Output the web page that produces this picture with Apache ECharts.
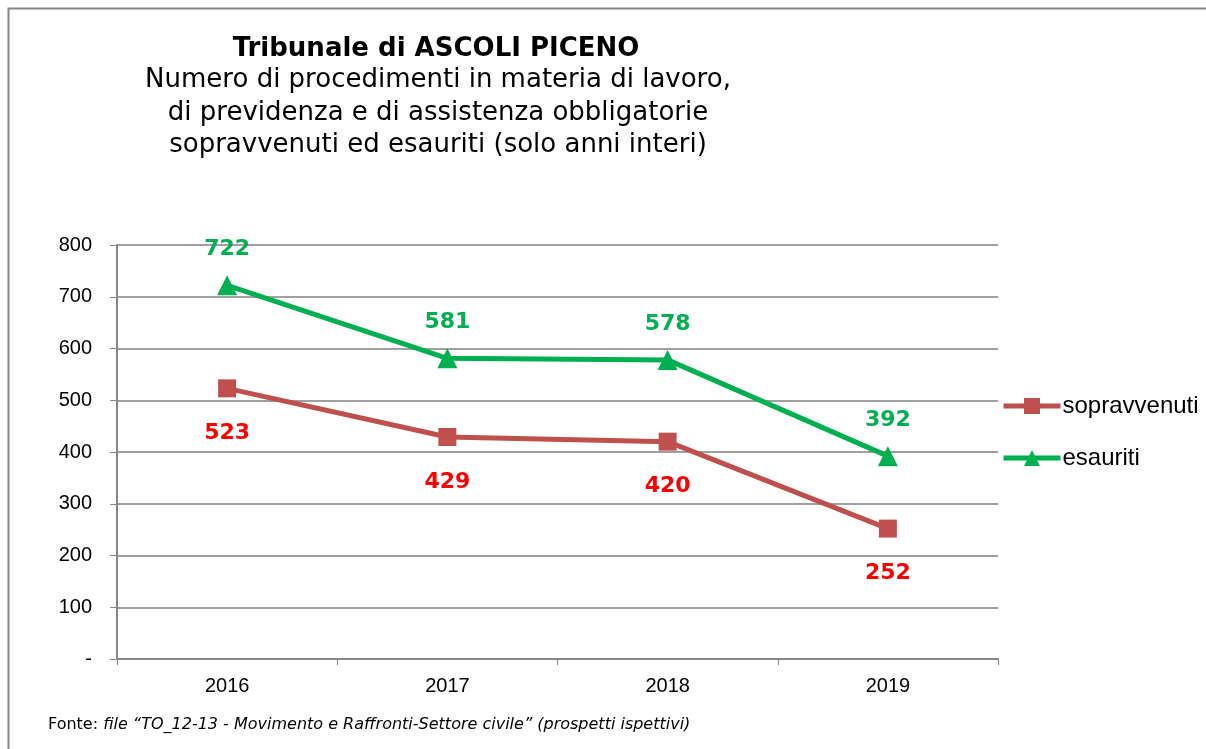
<!DOCTYPE html>
<html>
<head>
<meta charset="utf-8">
<script src="https://cdn.jsdelivr.net/npm/echarts@6/dist/echarts.min.js"></script>
<style>
  html, body { margin: 0; padding: 0; background: #fff; }
  #chart { width: 1206px; height: 749px; }
</style>
</head>
<body>
<div id="chart"></div>
<script>
var years = ['2016', '2017', '2018', '2019'];
var sopravvenuti = [523, 429, 420, 252];
var esauriti = [722, 581, 578, 392];

var chart = echarts.init(document.getElementById('chart'));

var option = {
  animation: false,
  backgroundColor: '#fff',
  title: [{
    text: 'Tribunale di ASCOLI PICENO',
    left: 431, top: 31, textAlign: 'center',
    textStyle: { fontFamily: 'DejaVu Sans', fontWeight: 'bold', fontSize: 26, color: '#000' }
  }, {
    text: 'Numero di procedimenti in materia di lavoro,\ndi previdenza e di assistenza obbligatorie\nsopravvenuti ed esauriti (solo anni interi)',
    left: 433, top: 59, textAlign: 'center',
    textStyle: { fontFamily: 'DejaVu Sans', fontWeight: 'normal', fontSize: 26, lineHeight: 32.5, color: '#000' }
  }],
  legend: {
    orient: 'vertical',
    left: 1001, top: 394, padding: 0,
    itemWidth: 57, itemHeight: 20, itemGap: 28,
    lineStyle: { width: 5 },
    textStyle: { fontFamily: 'Liberation Sans', fontSize: 24, color: '#000', padding: [0, 0, 0, -3] },
    data: ['sopravvenuti', 'esauriti']
  },
  grid: { left: 117, right: 208, top: 245, bottom: 90 },
  xAxis: {
    type: 'category',
    data: years,
    boundaryGap: true,
    axisLine: { lineStyle: { color: '#868686', width: 2 } },
    axisTick: { show: true, length: 6, lineStyle: { color: '#868686' } },
    axisLabel: { fontFamily: 'Liberation Sans', fontSize: 20, color: '#000', margin: 17 }
  },
  yAxis: {
    type: 'value',
    min: 0, max: 800, interval: 100,
    axisLine: { show: true, lineStyle: { color: '#868686', width: 2 } },
    axisTick: { show: true, length: 7, lineStyle: { color: '#868686' } },
    splitLine: { lineStyle: { color: '#808080', width: 1.5 } },
    axisLabel: {
      fontFamily: 'Liberation Sans', fontSize: 20, color: '#000', margin: 25,
      formatter: function (v) { return v === 0 ? '-' : String(v); }
    }
  },
  series: [{
    name: 'sopravvenuti',
    type: 'line',
    data: sopravvenuti,
    symbol: 'rect', symbolSize: 18,
    itemStyle: { color: '#C0504D' },
    lineStyle: { color: '#C0504D', width: 5 },
    label: {
      show: true, position: 'bottom', distance: 25,
      fontFamily: 'DejaVu Sans', fontWeight: 'bold', fontSize: 22, color: '#FF0000'
    }
  }, {
    name: 'esauriti',
    type: 'line',
    data: esauriti,
    symbol: 'triangle', symbolSize: 20,
    itemStyle: { color: '#00B050' },
    lineStyle: { color: '#00B050', width: 5 },
    label: {
      show: true, position: 'top', distance: 15,
      fontFamily: 'DejaVu Sans', fontWeight: 'bold', fontSize: 22, color: '#00B050'
    }
  }],
  graphic: [{
    type: 'rect',
    shape: { x: 8.5, y: 8.5, width: 1250, height: 800 },
    style: { fill: 'none', stroke: '#868686', lineWidth: 2 }
  }, {
    type: 'text',
    left: 48, top: 717,
    style: {
      text: '{n|Fonte: }{i|file \u201cTO_12-13 - Movimento e Raffronti-Settore civile\u201d (prospetti ispettivi)}',
      rich: {
        n: { fontFamily: 'DejaVu Sans', fontSize: 16, fill: '#000' },
        i: { fontFamily: 'DejaVu Sans', fontStyle: 'italic', fontSize: 16, fill: '#000' }
      }
    }
  }]
};

chart.setOption(option);
</script>
</body>
</html>
